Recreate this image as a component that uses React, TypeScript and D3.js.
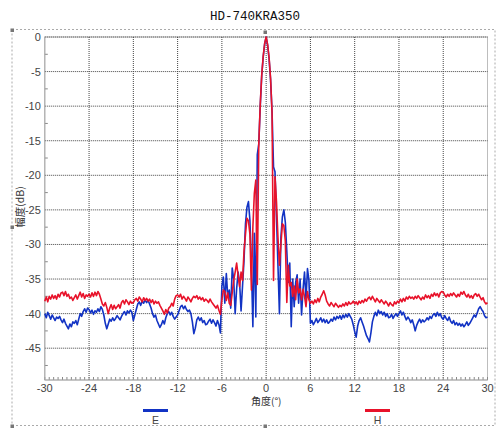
import React from "react";
import * as d3 from "d3";

// ---- DATA ----
const title = "HD-740KRA350";
const xTicks = [-30, -24, -18, -12, -6, 0, 6, 12, 18, 24, 30];
const yTicks = [0, -5, -10, -15, -20, -25, -30, -35, -40, -45];
const seriesNames = ["E", "H"];
// angle grid, 0.2° step from -30 to 30
const angles = d3.range(301).map((i) => Math.round((-30 + i * 0.2) * 10) / 10);

const hLeft = [
  -38.2, -37.6, -38.3, -37.5, -37.9, -37.3, -37.8, -37.4, -37.9, -37.2,
  -37.6, -37.0, -36.9, -37.4, -36.8, -37.5, -37.2, -37.8, -37.6, -38.1,
  -37.7, -37.3, -37.9, -37.4, -36.9, -37.6, -37.1, -37.8, -37.3, -37.5,
  -37.2, -37.6, -37.0, -37.5, -36.9, -37.4, -36.8, -37.2, -37.9, -38.6,
  -38.9, -38.4, -39.1, -40.0, -39.2, -38.7, -39.4, -38.8, -39.3, -39.0,
  -38.7, -39.2, -38.4, -38.1, -38.6, -38.0, -38.3, -38.7, -38.2, -38.5,
  -38.4, -38.0, -37.8, -38.2, -37.6, -37.9, -38.3, -37.7, -38.1, -37.8,
  -38.2, -37.9, -38.4, -38.0, -38.6, -38.2, -38.5, -38.3, -38.8, -39.2,
  -39.6, -40.1, -39.4, -39.9, -39.2, -39.0, -38.5, -38.9, -37.9, -37.4,
  -37.3, -37.6, -37.2, -37.9, -37.5, -37.8, -38.2, -37.6, -37.9, -38.3,
  -37.8, -37.5, -37.7, -37.4, -37.9, -37.6, -38.0, -37.7, -38.2, -37.9,
  -38.1, -38.4, -37.9, -38.3, -38.6, -38.9, -39.2, -38.8, -39.5, -40.1,
];
const hCenter = [
  -38.0, -36.6, -36.8, -38.1, -37.0, -38.5, -38.8, -37.0, -35.2, -34.0,
  -32.7, -34.5, -36.1, -34.0, -35.2, -31.0, -28.5, -26.2, -26.6, -28.5,
  -36.6, -27.5, -22.6, -20.7, -35.8, -15.5, -9.8, -5.5, -2.8, -0.9,
  0.0, -1.1, -3.0, -6.0, -11.0, -35.2, -20.2, -23.8, -29.0, -33.0,
  -30.0, -27.0, -27.3, -29.5, -38.4, -33.0, -36.0, -35.5, -37.5, -36.0,
  -38.0, -35.0, -37.0, -36.4, -38.0, -36.5, -37.5, -39.0, -36.8, -38.0,
];
const hRight = [
  -38.5, -38.2, -38.6, -38.0, -38.4, -37.8, -38.3, -37.6, -37.2, -36.7,
  -37.3, -38.2, -38.6, -38.9, -38.4, -38.7, -39.0, -38.5, -38.8, -39.1,
  -38.8, -39.0, -38.6, -38.9, -38.4, -38.8, -38.3, -38.6, -38.5, -38.2,
  -38.6, -38.3, -38.7, -38.2, -38.5, -38.1, -38.4, -37.9, -38.2, -37.8,
  -37.6, -38.0, -37.5, -37.9, -38.3, -37.8, -38.1, -38.4, -38.0, -38.3,
  -38.6, -38.2, -38.5, -38.9, -38.4, -38.7, -38.9, -38.3, -38.6, -38.2,
  -38.4, -37.9, -38.3, -37.8, -38.2, -37.6, -37.9, -37.5, -37.8, -37.6,
  -37.9, -37.5, -37.8, -37.4, -37.7, -38.0, -37.6, -37.9, -37.3, -37.7,
  -37.4, -37.8, -37.2, -37.5, -37.0, -37.4, -37.1, -37.6, -37.0, -36.8,
  -36.9, -37.3, -37.6, -37.2, -37.5, -37.1, -37.4, -37.0, -37.3, -37.6,
  -37.2, -37.5, -36.9, -37.2, -36.8, -37.3, -37.6, -37.2, -37.7, -37.4,
  -37.8, -37.3, -37.1, -37.5, -37.2, -37.6, -38.0, -37.7, -38.3, -38.6,
  -38.4,
];

const eLeft = [
  -40.0, -40.6, -39.8, -40.3, -40.8, -40.2, -40.6, -41.0, -40.5, -40.7,
  -40.4, -40.9, -41.3, -40.8, -41.4, -41.8, -42.2, -41.5, -41.9, -41.2,
  -41.4, -41.0, -41.6, -40.8, -40.0, -40.4, -39.7, -39.3, -39.8, -39.2,
  -39.4, -39.9, -39.5, -40.1, -39.6, -39.8, -39.3, -39.7, -39.0, -39.4,
  -40.2, -41.4, -42.2, -41.5, -40.8, -41.1, -40.6, -41.0, -40.7, -40.3,
  -40.6, -40.9, -40.4, -40.0, -39.7, -40.2, -39.6, -39.9, -39.5, -39.8,
  -41.0, -40.2, -39.4, -38.6, -38.3, -38.8, -38.2, -38.5, -38.0, -38.4,
  -38.1, -38.6, -39.2, -40.0, -40.5, -40.2, -41.0, -41.5, -42.0, -41.6,
  -41.0, -41.5, -40.6, -40.0, -39.7, -40.2, -39.8, -40.4, -40.8, -40.5,
  -40.2, -39.6, -39.0, -38.8, -39.3, -38.9, -39.4, -39.7, -39.5, -40.0,
  -41.2, -42.9, -42.1, -40.9, -40.5, -41.0, -40.6, -41.3, -41.0, -41.6,
  -41.5, -41.1, -40.8, -41.4, -40.9, -41.3, -41.8, -41.0, -41.6, -42.8,
];
const eCenter = [
  -36.0, -34.7, -38.5, -34.2, -37.5, -36.6, -39.2, -33.4, -35.0, -40.0,
  -36.4, -34.0, -35.5, -39.6, -36.0, -32.3, -27.0, -24.6, -23.8, -26.5,
  -33.0, -41.9, -28.4, -40.5, -17.0, -15.5, -10.0, -5.6, -2.9, -1.0,
  0.0, -1.2, -3.2, -6.2, -10.8, -18.8, -19.5, -26.0, -33.0, -40.0,
  -29.0, -26.0, -25.0, -26.8, -31.0, -35.5, -32.7, -41.9, -35.0, -39.0,
  -35.5, -34.4, -38.5, -35.0, -40.2, -36.5, -34.0, -38.0, -33.5, -35.2,
];
const eRight = [
  -41.4, -41.0, -41.6, -41.2, -40.7, -41.3, -41.0, -40.6, -41.2, -40.8,
  -41.3, -40.9, -41.4, -41.2, -40.8, -41.1, -40.5, -40.9, -40.4, -40.7,
  -40.3, -40.8, -40.2, -40.6, -40.1, -40.5, -40.0, -40.4, -40.8, -41.6,
  -42.6, -43.4, -41.8, -41.0, -40.6, -41.2, -41.8, -42.5, -43.2, -43.6,
  -44.1, -42.8, -41.2, -40.4, -39.8, -40.3, -39.5, -40.0, -39.7, -40.2,
  -39.8, -40.4, -40.0, -40.6, -40.5, -40.1, -40.7, -40.3, -40.0, -40.4,
  -40.0, -39.6, -40.2, -39.8, -40.4, -40.9, -40.5, -40.8, -41.3, -40.9,
  -41.6, -42.5, -41.7, -41.2, -40.8, -41.3, -40.9, -41.2, -41.0, -40.6,
  -40.9, -40.4, -40.7, -40.2, -40.0, -40.4, -39.8, -40.3, -40.0, -40.6,
  -40.8, -40.3, -40.7, -41.0, -40.5, -41.1, -41.4, -41.0, -41.6, -41.3,
  -41.7, -41.4, -41.8, -41.5, -41.9, -41.6, -41.2, -41.7, -41.4, -41.0,
  -40.6, -40.2, -40.5, -39.9, -39.3, -39.0, -39.4, -39.7, -40.3, -40.6,
  -40.5,
];

const eValues = [...eLeft, ...eCenter, ...eRight];
const hValues = [...hLeft, ...hCenter, ...hRight];

// ---- LAYOUT ----
const W = 496;
const H = 428;
const plot = { left: 44.8, right: 487.5, top: 37, bottom: 380 };
const colors = { E: "#1233c4", H: "#e8122a" };

export default function App() {
  const x = d3.scaleLinear().domain([-30, 30]).range([plot.left, plot.right]);
  const y = d3.scaleLinear().domain([0, -49.6]).range([plot.top, plot.bottom]);
  const line = d3
    .line<number>()
    .x((_, i) => x(angles[i]))
    .y((d) => y(d));

  const minorX = d3.range(-30, 30.0001, 0.6).map((v) => Math.round(v * 10) / 10);
  const minorY = [-2.5, -7.5, -12.5, -17.5, -22.5, -27.5, -32.5, -37.5, -42.5, -47.5];
  const tickFont = "'Liberation Sans', Arial, sans-serif";
  const handle = (cx: number, cy: number, k: string) => (
    <rect key={k} x={cx - 1.5} y={cy - 1.5} width={3.5} height={3.5} fill="#777" />
  );

  return (
    <svg
      width={W}
      height={H}
      style={{ position: "absolute", left: 0, top: 0, background: "#fff" }}
    >
      <rect x={0} y={0} width={W} height={H} fill="#fff" />
      <text
        x={255}
        y={20}
        textAnchor="middle"
        fontFamily="'Liberation Mono', 'Courier New', monospace"
        fontSize={12.5}
        fill="#111"
      >
        {title}
      </text>
      {/* outer selection frame */}
      <rect
        x={12}
        y={29.5}
        width={483}
        height={396}
        fill="none"
        stroke="#aaa"
        strokeWidth={1}
        strokeDasharray="2 2"
      />
      {handle(12, 30, "h1")}
      {handle(265, 32, "h2")}
      {handle(12, 227, "h3")}
      {handle(12, 426, "h4")}
      {handle(265, 426, "h5")}

      {/* plot background */}
      <rect
        x={plot.left}
        y={plot.top}
        width={plot.right - plot.left}
        height={plot.bottom - plot.top}
        fill="#fff"
        stroke="#bdbdbd"
        strokeWidth={1}
      />
      {/* grid */}
      {yTicks.map((t) => (
        <line
          key={"gy" + t}
          x1={plot.left}
          x2={plot.right}
          y1={y(t)}
          y2={y(t)}
          stroke="#444"
          strokeWidth={1}
          strokeDasharray="1 1"
        />
      ))}
      {xTicks.slice(1, -1).map((t) => (
        <line
          key={"gx" + t}
          x1={x(t)}
          x2={x(t)}
          y1={plot.top}
          y2={plot.bottom}
          stroke="#444"
          strokeWidth={1}
          strokeDasharray="1 1"
        />
      ))}
      {/* minor ticks */}
      {minorX.map((t) => (
        <line
          key={"mx" + t}
          x1={x(t)}
          x2={x(t)}
          y1={plot.bottom}
          y2={plot.bottom - 3}
          stroke="#888"
          strokeWidth={1}
        />
      ))}
      {minorY.map((t) => (
        <line
          key={"my" + t}
          x1={plot.left}
          x2={plot.left + 3}
          y1={y(t)}
          y2={y(t)}
          stroke="#888"
          strokeWidth={1}
        />
      ))}
      {/* axis lines */}
      <line x1={plot.left} x2={plot.left} y1={plot.top} y2={plot.bottom} stroke="#aaa" />
      <line x1={plot.left} x2={plot.right} y1={plot.bottom} y2={plot.bottom} stroke="#aaa" />

      {/* series */}
      <path d={line(eValues) || ""} fill="none" stroke={colors.E} strokeWidth={1.6} strokeLinejoin="round" />
      <path d={line(hValues) || ""} fill="none" stroke={colors.H} strokeWidth={1.6} strokeLinejoin="round" />

      {/* tick labels */}
      {yTicks.map((t) => (
        <text
          key={"ly" + t}
          x={plot.left - 4}
          y={y(t) + 4}
          textAnchor="end"
          fontFamily={tickFont}
          fontSize={11}
          fill="#444"
        >
          {t}
        </text>
      ))}
      {xTicks.map((t) => (
        <text
          key={"lx" + t}
          x={x(t)}
          y={392}
          textAnchor="middle"
          fontFamily={tickFont}
          fontSize={11}
          fill="#444"
        >
          {t}
        </text>
      ))}
      {/* axis titles */}
      <text
        x={251}
        y={404.5}
        fontFamily="'Noto Sans CJK SC', sans-serif"
        fontSize={10}
        fill="#333"
      >
        角度(°)
      </text>
      <text
        transform="translate(24,207) rotate(-90)"
        textAnchor="middle"
        fontFamily="'Noto Sans CJK SC', sans-serif"
        fontSize={10.5}
        fill="#333"
      >
        幅度(dB)
      </text>
      {/* legend */}
      {seriesNames.map((name, i) => {
        const cx = i === 0 ? 155.5 : 377.5;
        return (
          <g key={name}>
            <line
              x1={cx - 12.5}
              x2={cx + 12.5}
              y1={410.5}
              y2={410.5}
              stroke={colors[name as "E" | "H"]}
              strokeWidth={3}
            />
            <text
              x={cx}
              y={424}
              textAnchor="middle"
              fontFamily={tickFont}
              fontSize={10.5}
              fill="#444"
            >
              {name}
            </text>
          </g>
        );
      })}
    </svg>
  );
}
